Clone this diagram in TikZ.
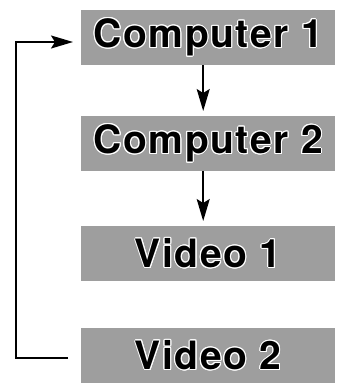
\documentclass[tikz,border=0pt]{standalone}
\usepackage{fontspec}
\setmainfont{TeX Gyre Heros}[LetterSpace=4]
\usepackage{contour}
\contourlength{1pt}
\contournumber{16}
\usetikzlibrary{arrows.meta,calc}
\definecolor{sourcegray}{rgb}{0.62,0.62,0.62}
\newcommand{\haloed}[1]{\contour{white}{#1}}

\begin{document}
\begin{tikzpicture}[
  x=1pt,y=-1pt,
  every node/.style={font=\bfseries\fontsize{39}{42}\selectfont},
  source/.style={fill=sourcegray,minimum width=254pt,minimum height=55pt,inner sep=0pt,anchor=north west},
  link/.style={-{Stealth[length=22pt,width=13pt,inset=4pt]},line width=1.8pt}
]
  \useasboundingbox (0,0) rectangle (337,383);
  \node[source] (comp1) at (81,10)  {\haloed{Computer 1}};
  \node[source] (comp2) at (81,116) {\haloed{Computer 2}};
  \node[source] (vid1)  at (81,226) {\haloed{Video 1}};
  \node[source] (vid2)  at (81,328) {\haloed{Video 2}};

  \coordinate (loopin)  at (73,42);
  \coordinate (loopout) at (68,358);

  \draw[link] ($(comp1.south)+(-5,0)$) -- ($(comp2.north)+(-5,-5)$);
  \draw[link] ($(comp2.south)+(-5,0)$) -- ($(vid1.north)+(-5,-5)$);
  \draw[link] (loopout) -- (16,358) |- (loopin);
\end{tikzpicture}
\end{document}
